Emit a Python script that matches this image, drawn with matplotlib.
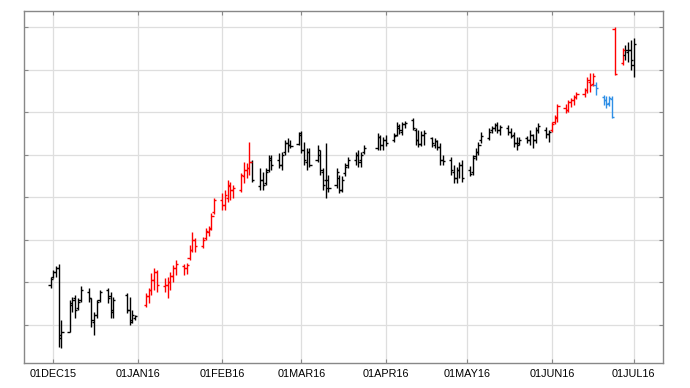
import numpy as np
import pandas as pd
import matplotlib
matplotlib.use("Agg")
import matplotlib.pyplot as plt
import matplotlib.dates as mdates
from matplotlib.ticker import FuncFormatter

# trading days (weekdays minus the market holidays in the range)
holidays = ["2015-12-24", "2015-12-25", "2016-01-01", "2016-03-25", "2016-03-28"]
dates = pd.bdate_range("2015-11-30", "2016-07-01")
dates = dates[~dates.isin(pd.to_datetime(holidays))]

# open, high, low, close for each day
opens = [1097, 1106, 1112, 1117, 1034, 1041, 1073, 1081, 1070, 1079, 1089, 1081, 1053, 1061, 1079, 1091, 1084, 1067, 1085, 1067, 1056, 1058,
         1073, 1084, 1091, 1103, 1112, 1096, 1097, 1100, 1107, 1117, 1119, 1117, 1128, 1138, 1150, 1143, 1152, 1159, 1164, 1183,
         1197, 1191, 1199, 1213, 1208, 1208, 1225, 1232, 1234,
         1241, 1213, 1220, 1217, 1232, 1244, 1244, 1238, 1253, 1264, 1261, 1263, 1275, 1256, 1241, 1253,
         1244, 1250, 1230, 1220, 1220, 1214, 1223, 1208, 1228, 1238, 1244, 1250, 1244, 1253,
         1258, 1271, 1261, 1267, 1267, 1273, 1281, 1277, 1286, 1291, 1279, 1267, 1263, 1273,
         1270, 1261, 1266, 1259, 1244, 1244, 1230, 1223, 1232, 1238, 1232, 1230, 1248, 1253, 1267,
         1270, 1279, 1281, 1285, 1279, 1281, 1277, 1273, 1264, 1264, 1270, 1267, 1273, 1267, 1279, 1279, 1274,
         1279, 1288, 1293, 1305, 1303, 1312, 1314, 1318, 1321, 1326, 1335, 1333,
         1332, 1318, 1314, 1311, 1315, 1398, 1358, 1367, 1371, 1373, 1355]
highs = [1106, 1114, 1119, 1121, 1056, 1079, 1083, 1085, 1081, 1096, 1093, 1082, 1065, 1079, 1091, 1093, 1089, 1083, 1087, 1083, 1067, 1061,
         1087, 1093, 1111, 1117, 1114, 1105, 1106, 1112, 1120, 1126, 1121, 1123, 1144, 1159, 1152, 1153, 1164, 1166, 1181, 1199,
         1205, 1208, 1220, 1218, 1214, 1228, 1241, 1240, 1265,
         1244, 1234, 1230, 1234, 1250, 1250, 1252, 1253, 1267, 1270, 1267, 1277, 1278, 1265, 1258, 1258,
         1261, 1256, 1234, 1264, 1226, 1234, 1226, 1225, 1240, 1247, 1253, 1256, 1253, 1261,
         1275, 1273, 1271, 1273, 1275, 1288, 1286, 1288, 1290, 1293, 1281, 1279, 1278, 1279,
         1271, 1270, 1267, 1264, 1250, 1247, 1238, 1235, 1241, 1244, 1237, 1250, 1258, 1265, 1277,
         1281, 1284, 1287, 1288, 1285, 1285, 1281, 1277, 1271, 1271, 1272, 1279, 1274, 1283, 1287, 1283, 1279,
         1288, 1297, 1310, 1310, 1314, 1317, 1320, 1324, 1328, 1341, 1346, 1346,
         1335, 1320, 1319, 1319, 1319, 1400, 1375, 1379, 1383, 1385, 1387]
lows = [1093, 1105, 1106, 1024, 1023, 1041, 1065, 1058, 1067, 1077, 1077, 1047, 1038, 1058, 1077, 1076, 1058, 1058, 1064, 1050, 1052, 1056,
        1071, 1076, 1085, 1091, 1089, 1089, 1081, 1091, 1100, 1108, 1108, 1110, 1126, 1136, 1136, 1140, 1150, 1154, 1161, 1180,
        1185, 1185, 1194, 1197, 1199, 1206, 1217, 1223, 1226,
        1218, 1208, 1208, 1214, 1230, 1232, 1234, 1232, 1250, 1253, 1258, 1261, 1252, 1238, 1232, 1235,
        1241, 1226, 1208, 1199, 1206, 1211, 1205, 1206, 1225, 1234, 1238, 1235, 1235, 1251,
        1256, 1256, 1256, 1260, 1265, 1272, 1274, 1273, 1281, 1279, 1261, 1259, 1260, 1261,
        1259, 1258, 1256, 1238, 1238, 1226, 1217, 1217, 1223, 1218, 1225, 1226, 1244, 1250, 1264,
        1267, 1275, 1278, 1275, 1273, 1273, 1270, 1259, 1256, 1261, 1264, 1261, 1258, 1264, 1275, 1270, 1265,
        1277, 1286, 1288, 1299, 1300, 1306, 1308, 1315, 1318, 1323, 1324, 1331,
        1320, 1308, 1305, 1307, 1293, 1344, 1355, 1361, 1359, 1350, 1341]
closes = [1104, 1112, 1117, 1038, 1041, 1076, 1079, 1067, 1077, 1091, 1081, 1056, 1061, 1077, 1089, 1081, 1065, 1079, 1067, 1053, 1061, 1060,
          1084, 1091, 1103, 1112, 1097, 1097, 1100, 1107, 1117, 1121, 1117, 1120, 1138, 1150, 1143, 1150, 1160, 1163, 1178, 1197,
          1191, 1203, 1214, 1208, 1211, 1226, 1232, 1234, 1241,
          1220, 1220, 1214, 1230, 1246, 1238, 1238, 1250, 1264, 1261, 1260, 1273, 1256, 1244, 1253, 1238,
          1256, 1232, 1214, 1211, 1211, 1230, 1208, 1220, 1235, 1244, 1250, 1241, 1250, 1258,
          1271, 1261, 1267, 1264, 1272, 1284, 1279, 1286, 1287, 1281, 1267, 1263, 1273, 1275,
          1264, 1266, 1259, 1244, 1243, 1232, 1223, 1232, 1238, 1223, 1227, 1246, 1253, 1261, 1272,
          1277, 1281, 1285, 1279, 1283, 1277, 1272, 1264, 1261, 1267, 1267, 1273, 1267, 1279, 1284, 1274, 1277,
          1286, 1294, 1307, 1303, 1312, 1314, 1318, 1321, 1326, 1338, 1332, 1343,
          1328, 1314, 1310, 1317, 1294, 1345, 1373, 1373, 1373, 1361, 1380]

# trend group of each day
trend = (["flat"] * 22 + ["up"] * 29 + ["flat"] * 76 + ["up"] * 12
         + ["down"] * 5 + ["up"] * 2 + ["flat"] * 4)
trend_colors = {"flat": "black", "up": "#ff0000", "down": "#2f8fe6"}

x = mdates.date2num(dates.to_pydatetime())
cols = [trend_colors[t] for t in trend]

fig = plt.figure(figsize=(6.9, 3.88), dpi=100)
ax = fig.add_axes([0.035, 0.0644, 0.926, 0.9072])

tick = 0.8  # open/close tick length in days
ax.vlines(x, lows, highs, colors=cols, lw=1.0)
ax.hlines(opens, x - tick, x, colors=cols, lw=1.0)
ax.hlines(closes, x, x + tick, colors=cols, lw=1.0)

ax.set_xlim(mdates.date2num(pd.Timestamp("2015-12-01")) - 10.7,
            mdates.date2num(pd.Timestamp("2016-07-01")) + 10.8)
ax.set_ylim(1005, 1419)

months = pd.date_range("2015-12-01", "2016-07-01", freq="MS")
ax.set_xticks(mdates.date2num(months.to_pydatetime()))
ax.xaxis.set_major_formatter(FuncFormatter(lambda v, p: mdates.num2date(v).strftime("%d%b%y").upper()))
ax.set_yticks(np.arange(1050, 1401, 50))
ax.set_yticklabels([])

ax.grid(True, color="#dedede", lw=0.9)
ax.set_axisbelow(True)
for s in ax.spines.values():
    s.set_color("#888888")
    s.set_linewidth(1.0)
ax.tick_params(direction="in", length=3, color="#888888", top=True, right=True,
               labelsize=7.8, pad=4)
for lab in ax.get_xticklabels():
    lab.set_fontfamily("Liberation Sans")

fig.savefig("out.png", dpi=100)
